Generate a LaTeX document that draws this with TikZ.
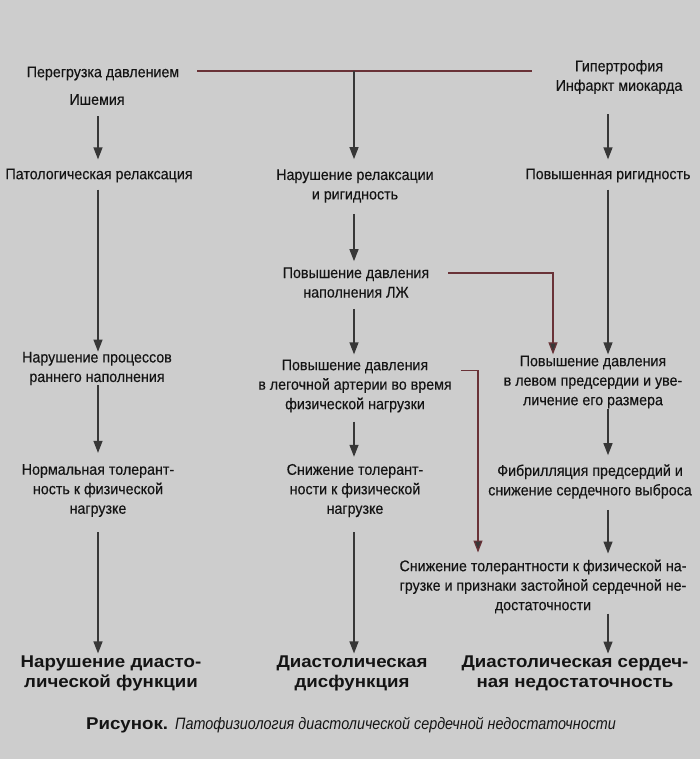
\documentclass[tikz,border=0pt]{standalone}
\usepackage{fontspec}
\setmainfont{Liberation Sans}[FakeStretch=0.92,FakeBold=0.25]
\newfontfamily\bigfont{Liberation Sans}[FakeStretch=1.1]
\newfontfamily\capfont{Liberation Sans}[FakeStretch=0.87]
\usetikzlibrary{arrows.meta}
\definecolor{bg}{RGB}{205,205,205}
\definecolor{ink}{RGB}{20,20,20}
\definecolor{arrc}{RGB}{55,55,55}
\definecolor{redl}{RGB}{105,50,55}
\tikzset{
  txt/.style={inner sep=0pt, align=center, text=ink, font=\fontsize{15.5}{19.5}\selectfont},
  big/.style={inner sep=0pt, align=center, text=ink, font=\bigfont\fontsize{17}{20.5}\selectfont\bfseries},
  arr/.style={draw=arrc, line width=1.3pt, -{Triangle[length=12pt,width=9pt]}},
  rarr/.style={draw=redl, line width=1.2pt, -{Triangle[length=12pt,width=9pt,fill=arrc]}},
  rline/.style={draw=redl, line width=1.2pt}
}
\begin{document}
\begin{tikzpicture}[x=1pt,y=-1pt]
\fill[bg] (0,0) rectangle (700,759);
\useasboundingbox (0,0) rectangle (700,759);
% top
\node[txt] (n1) at (103,73.5) {Перегрузка давлением};
\node[txt] (n2) at (97,99.5) {Ишемия};
\node[txt] (n3) at (619,77) {Гипертрофия\\Инфаркт миокарда};
% row 1
\node[txt] (L1) at (99,175.5) {Патологическая релаксация};
\node[txt] (M1) at (355,186) {Нарушение релаксации\\и ригидность};
\node[txt] (R1) at (608,175.5) {Повышенная ригидность};
% row 2
\node[txt] (M2) at (356,282.5) {Повышение давления\\наполнения ЛЖ};
% row 3
\node[txt] (L2) at (97,368.5) {Нарушение процессов\\раннего наполнения};
\node[txt] (M3) at (355,386) {Повышение давления\\в легочной артерии во время\\физической нагрузки};
\node[txt] (R2) at (593,382) {Повышение давления\\в левом предсердии и уве-\\личение его размера};
% row 4
\node[txt] (L3) at (98,490.5) {Нормальная толерант-\\ность к физической\\нагрузке};
\node[txt] (M4) at (355,490.5) {Снижение толерант-\\ности к физической\\нагрузке};
\node[txt] (R3) at (590,481.5) {Фибрилляция предсердий и\\снижение сердечного выброса};
% row 5
\node[txt] (R4) at (543,586.5) {Снижение толерантности к физической на-\\грузке и признаки застойной сердечной не-\\достаточности};
% bottom
\node[big] (B1) at (111,673.5) {Нарушение диасто-\\лической функции};
\node[big] (B2) at (352,673.5) {Диастолическая\\дисфункция};
\node[big] (B3) at (575,673.5) {Диастолическая сердеч-\\ная недостаточность};
\node[inner sep=0pt, text=ink] (cap) at (351,725) {{\bigfont\fontsize{17}{18}\selectfont\bfseries Рисунок.}\hspace{7pt}{\capfont\fontsize{16.5}{18}\selectfont\itshape Патофизиология диастолической сердечной недостаточности}};
% columns
\coordinate (cL) at (98,0);
\coordinate (cM) at (354,0);
\coordinate (cR) at (608,0);
\coordinate (j1) at (354,71);
% top line
\draw[rline, shorten <=18pt, shorten >=23pt] (n1.east |- j1) -- (n3.west |- j1);
\draw[arr, shorten >=10pt] (j1) -- (cM |- M1.north);
% left column
\draw[arr, shorten <=11pt, shorten >=9pt] (cL |- n2.south) -- (cL |- L1.north);
\draw[arr, shorten <=7pt, shorten >=0pt] (cL |- L1.south) -- (cL |- L2.north);
\draw[arr, shorten <=0pt, shorten >=11pt] (cL |- L2.south) -- (cL |- L3.north);
\draw[arr, shorten <=15pt, shorten >=2pt] (cL |- L3.south) -- (cL |- B1.north);
% middle column
\draw[arr, shorten <=11pt, shorten >=6pt] (cM |- M1.south) -- (cM |- M2.north);
\draw[arr, shorten <=11pt, shorten >=5pt] (cM |- M2.south) -- (cM |- M3.north);
\draw[arr, shorten <=9pt, shorten >=7pt] (cM |- M3.south) -- (cM |- M4.north);
\draw[arr, shorten <=15pt, shorten >=2pt] (cM |- M4.south) -- (cM |- B2.north);
% right column
\draw[arr, shorten <=20pt, shorten >=9pt] (cR |- n3.south) -- (cR |- R1.north);
\draw[arr, shorten <=7pt, shorten >=1pt] (cR |- R1.south) -- (cR |- R2.north);
\draw[arr, shorten <=0pt, shorten >=9pt] (cR |- R2.south) -- (cR |- R3.north);
\draw[arr, shorten <=11pt, shorten >=6pt] (cR |- R3.south) -- (cR |- R4.north);
\draw[arr, shorten <=0pt, shorten >=2pt] (cR |- R4.south) -- (cR |- B3.north);
% red connectors
\coordinate (kx1) at (553,0);
\coordinate (kx2) at (478,0);
\draw[rarr, shorten <=19pt, shorten >=1pt] ([yshift=9.5pt]M2.east) -| (kx1 |- R2.north);
\draw[rarr, shorten <=9pt, shorten >=7pt] ([yshift=15.5pt]M3.east) -| (kx2 |- R4.north);
\end{tikzpicture}
\end{document}
